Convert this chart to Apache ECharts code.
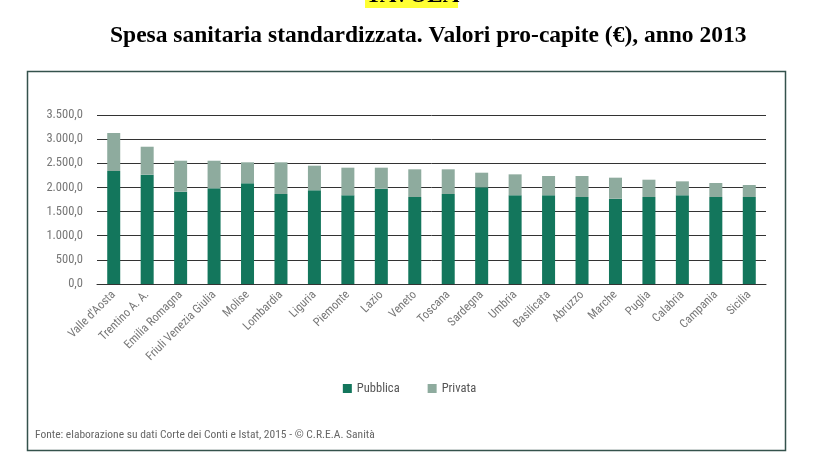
<!DOCTYPE html>
<html>
<head>
<meta charset="utf-8">
<script src="https://cdn.jsdelivr.net/npm/echarts@6/dist/echarts.min.js"></script>
<style>
html,body{margin:0;padding:0;background:#fff;}
#c{width:819px;height:464px;}
</style>
</head>
<body>
<div id="c"></div>
<script>
const categories = ["Valle d'Aosta","Trentino A. A.","Emilia Romagna","Friuli Venezia Giulia","Molise","Lombardia","Liguria","Piemonte","Lazio","Veneto","Toscana","Sardegna","Umbria","Basilicata","Abruzzo","Marche","Puglia","Calabria","Campania","Sicilia"];
const totale = [3127,2843,2553,2553,2520,2520,2450,2409,2409,2375,2375,2305,2271,2237,2237,2202,2160,2126,2092,2050];
const pubblica = [2340,2264,1912,1981,2085,1864,1940,1837,1974,1802,1864,2002,1837,1837,1802,1767,1802,1837,1802,1802];
const privata = totale.map((t,i)=>t-pubblica[i]);
const yTicks = [0,500,1000,1500,2000,2500,3000,3500];

function fmt(v){
  const s = Math.round(v).toString().replace(/\B(?=(\d{3})+(?!\d))/g,'.');
  return s + ',0';
}
const narrow = '"Liberation Sans Narrow","Roboto Condensed","Liberation Sans",sans-serif';
const chart = echarts.init(document.getElementById('c'), null, {renderer:'canvas'});
chart.setOption({
  animation:false,
  backgroundColor:'#ffffff',
  grid:{left:97,right:53,top:115,bottom:180},
  legend:{
    data:['Pubblica','Privata'],
    top:377,left:'center',
    itemWidth:9,itemHeight:9,itemGap:28,
    icon:'rect',
    textStyle:{fontFamily:narrow,fontSize:12.5,color:'#555'}
  },
  xAxis:{
    type:'category',
    data:categories,
    axisLine:{lineStyle:{color:'#333',width:1}},
    axisTick:{show:false},
    axisLabel:{rotate:45,interval:0,fontFamily:narrow,fontSize:12,color:'#777',margin:9}
  },
  yAxis:{
    type:'value',min:yTicks[0],max:yTicks[yTicks.length-1],interval:500,
    axisLine:{show:false},axisTick:{show:false},
    splitLine:{lineStyle:{color:'#333',width:1}},
    axisLabel:{formatter:fmt,fontFamily:narrow,fontSize:12.5,color:'#777',margin:14}
  },
  series:[
    {name:'Pubblica',type:'bar',stack:'a',data:pubblica,barWidth:13,itemStyle:{color:'#13765c'}},
    {name:'Privata',type:'bar',stack:'a',data:privata,barWidth:13,itemStyle:{color:'#8eab9e'}}
  ],
  graphic:[
    {type:'rect',shape:{x:365,y:-2,width:93,height:10},style:{fill:'#ffff33'},z:-1},
    {type:'text',left:366,top:-15,style:{text:'TAVOLA',fontFamily:'"Liberation Serif",serif',fontWeight:'bold',fontSize:23,fill:'#000'}},
    {type:'text',left:110,top:24,style:{text:'Spesa sanitaria standardizzata. Valori pro-capite (€), anno 2013',fontFamily:'"Liberation Serif","Times New Roman",serif',fontWeight:'bold',fontSize:23.5,fill:'#000'}},
    {type:'rect',shape:{x:27.5,y:71.5,width:758,height:379},style:{fill:'none',stroke:'#34524c',lineWidth:1.5},z:10},
    {type:'text',left:35,top:429,style:{text:'Fonte: elaborazione su dati Corte dei Conti e Istat, 2015 - © C.R.E.A. Sanità',fontFamily:narrow,fontSize:11.5,fill:'#666'}}
  ]
});
</script>
</body>
</html>
